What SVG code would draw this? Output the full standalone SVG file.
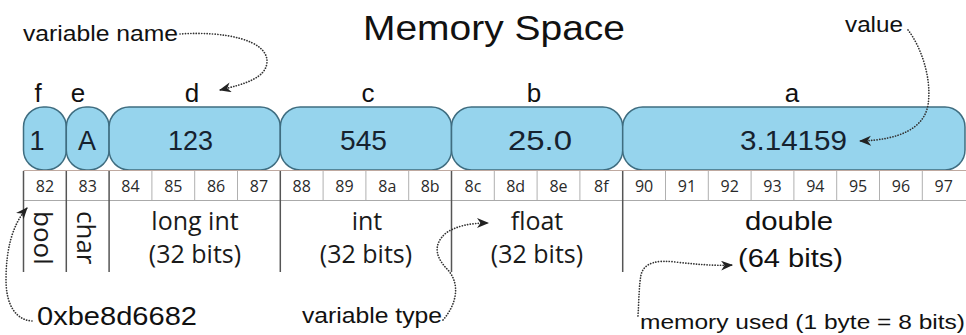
<svg xmlns="http://www.w3.org/2000/svg" width="966" height="335" viewBox="0 0 966 335">
<style>
.sans{font-family:"Liberation Sans",Arial,sans-serif;fill:#111}
.myr{font-family:"Open Sans","DejaVu Sans",sans-serif;fill:#1a1a1a}
.lbl{font-size:26px;text-anchor:middle}
.val{font-size:27px;fill:#16222f}
.bub{fill:#96d4ed;stroke:#3f6d80;stroke-width:1.5}
.addr{font-size:16px;text-anchor:middle;fill:#2a2a2a}
.typ{font-size:25px;text-anchor:middle}
.cell{stroke:#b0b0b0;stroke-width:1}
.maj{stroke:#555;stroke-width:1.5}
.dot{fill:none;stroke:#333;stroke-width:1.7;stroke-dasharray:0.1 2.6;stroke-linecap:round}
</style>
<defs>
<marker id="ah" markerUnits="userSpaceOnUse" markerWidth="14" markerHeight="12" refX="11" refY="5" orient="auto" viewBox="0 0 14 12">
<path d="M0,0 L12,5 L0,10 L3.5,5 Z" fill="#222"/>
</marker>
</defs>
<rect width="966" height="335" fill="#fff"/>
<text class="sans" x="363" y="40" font-size="35" textLength="262" lengthAdjust="spacingAndGlyphs">Memory Space</text>

<g id="node-f">
<rect class="bub" x="23.5" y="107" width="42.8" height="63" rx="20" ry="20"/>
<text class="sans lbl" x="38" y="102">f</text>
<text class="sans val" x="37" y="150" text-anchor="middle">1</text>
</g>
<g id="node-e">
<rect class="bub" x="66.3" y="107" width="42.8" height="63" rx="20" ry="20"/>
<text class="sans lbl" x="78" y="102">e</text>
<text class="sans val" x="87" y="150" text-anchor="middle">A</text>
</g>
<g id="node-d">
<rect class="bub" x="109.1" y="107" width="171.2" height="63" rx="20" ry="20"/>
<text class="sans lbl" x="192" y="102">d</text>
<text class="sans val" x="168" y="150" textLength="45" lengthAdjust="spacingAndGlyphs">123</text>
</g>
<g id="node-c">
<rect class="bub" x="280.3" y="107" width="171.2" height="63" rx="20" ry="20"/>
<text class="sans lbl" x="368" y="102">c</text>
<text class="sans val" x="340" y="150" textLength="47" lengthAdjust="spacingAndGlyphs">545</text>
</g>
<g id="node-b">
<rect class="bub" x="451.5" y="107" width="171.2" height="63" rx="20" ry="20"/>
<text class="sans lbl" x="534" y="102">b</text>
<text class="sans val" x="508" y="150" textLength="64" lengthAdjust="spacingAndGlyphs">25.0</text>
</g>
<g id="node-a">
<rect class="bub" x="622.7" y="107" width="342.3" height="63" rx="20" ry="20"/>
<text class="sans lbl" x="792" y="102">a</text>
<text class="sans val" x="740" y="150" textLength="107" lengthAdjust="spacingAndGlyphs">3.14159</text>
</g>

<g id="addresses">
<line x1="23.5" y1="170.5" x2="966" y2="170.5" stroke="#bfa9a0" stroke-width="1.2"/>
<line x1="23.5" y1="200.5" x2="966" y2="200.5" stroke="#aaa" stroke-width="1.2"/>
<line class="cell" x1="151.9" y1="171" x2="151.9" y2="200"/>
<line class="cell" x1="194.7" y1="171" x2="194.7" y2="200"/>
<line class="cell" x1="237.5" y1="171" x2="237.5" y2="200"/>
<line class="cell" x1="323.1" y1="171" x2="323.1" y2="200"/>
<line class="cell" x1="365.9" y1="171" x2="365.9" y2="200"/>
<line class="cell" x1="408.7" y1="171" x2="408.7" y2="200"/>
<line class="cell" x1="494.3" y1="171" x2="494.3" y2="200"/>
<line class="cell" x1="537.1" y1="171" x2="537.1" y2="200"/>
<line class="cell" x1="579.9" y1="171" x2="579.9" y2="200"/>
<line class="cell" x1="665.5" y1="171" x2="665.5" y2="200"/>
<line class="cell" x1="708.3" y1="171" x2="708.3" y2="200"/>
<line class="cell" x1="751.1" y1="171" x2="751.1" y2="200"/>
<line class="cell" x1="793.9" y1="171" x2="793.9" y2="200"/>
<line class="cell" x1="836.7" y1="171" x2="836.7" y2="200"/>
<line class="cell" x1="879.5" y1="171" x2="879.5" y2="200"/>
<line class="cell" x1="922.3" y1="171" x2="922.3" y2="200"/>
<line class="maj" x1="23.5" y1="171" x2="23.5" y2="272"/>
<line class="maj" x1="66.3" y1="171" x2="66.3" y2="272"/>
<line class="maj" x1="109.1" y1="171" x2="109.1" y2="272"/>
<line class="maj" x1="280.3" y1="171" x2="280.3" y2="272"/>
<line class="maj" x1="451.5" y1="171" x2="451.5" y2="272"/>
<line class="maj" x1="622.7" y1="171" x2="622.7" y2="272"/>
<g class="myr addr">
<text x="44.9" y="192">82</text><text x="87.7" y="192">83</text><text x="130.5" y="192">84</text><text x="173.3" y="192">85</text>
<text x="216.1" y="192">86</text><text x="258.9" y="192">87</text><text x="301.7" y="192">88</text><text x="344.5" y="192">89</text>
<text x="387.3" y="192">8a</text><text x="430.1" y="192">8b</text><text x="472.9" y="192">8c</text><text x="515.7" y="192">8d</text>
<text x="558.5" y="192">8e</text><text x="601.3" y="192">8f</text><text x="644.1" y="192">90</text><text x="686.9" y="192">91</text>
<text x="729.7" y="192">92</text><text x="772.5" y="192">93</text><text x="815.3" y="192">94</text><text x="858.1" y="192">95</text>
<text x="900.9" y="192">96</text><text x="943.7" y="192">97</text>
</g>
</g>

<g id="types">
<text class="myr" x="34" y="211" font-size="26" transform="rotate(90 34 211)">bool</text>
<text class="myr" x="77" y="211" font-size="26" transform="rotate(90 77 211)">char</text>
<text class="myr typ" x="195" y="230">long int</text>
<text class="myr typ" x="195" y="263">(32 bits)</text>
<text class="myr typ" x="367" y="230">int</text>
<text class="myr typ" x="366" y="263">(32 bits)</text>
<text class="myr typ" x="537" y="230">float</text>
<text class="myr typ" x="537" y="263">(32 bits)</text>
<text class="sans" x="745" y="230" font-size="26" textLength="88" lengthAdjust="spacingAndGlyphs">double</text>
<text class="sans" x="738" y="267" font-size="26" textLength="105" lengthAdjust="spacingAndGlyphs">(64 bits)</text>
</g>

<g id="annotations">
<text class="sans" x="23" y="41" font-size="22" textLength="155" lengthAdjust="spacingAndGlyphs">variable name</text>
<text class="sans" x="845" y="32" font-size="22" textLength="58" lengthAdjust="spacingAndGlyphs">value</text>
<text class="sans" x="37" y="325" font-size="25" textLength="160" lengthAdjust="spacingAndGlyphs">0xbe8d6682</text>
<text class="sans" x="302" y="323" font-size="22" textLength="140" lengthAdjust="spacingAndGlyphs">variable type</text>
<text class="sans" x="640" y="329" font-size="20" textLength="325" lengthAdjust="spacingAndGlyphs">memory used (1 byte = 8 bits)</text>
</g>

<g id="connectors">
<path class="dot" marker-end="url(#ah)" d="M180,34 C225,31 268,40 267,62 C266,78 245,84 220,90"/>
<path class="dot" marker-end="url(#ah)" d="M908,30 C922,48 932,80 928,105 C924,128 900,140 860,141"/>
<path class="dot" marker-end="url(#ah)" d="M32,321 C16,320 6,305 6,280 C6,250 12,225 27,208"/>
<path class="dot" marker-end="url(#ah)" d="M443,320 C456,305 461,285 448,270 C436,258 432,245 446,233 C456,226 470,223 488,223"/>
<path class="dot" marker-end="url(#ah)" d="M638,316 C639,300 639,285 641,275 C644,262 658,260 675,262 C695,264 712,266 732,265"/>
</g>
</svg>
